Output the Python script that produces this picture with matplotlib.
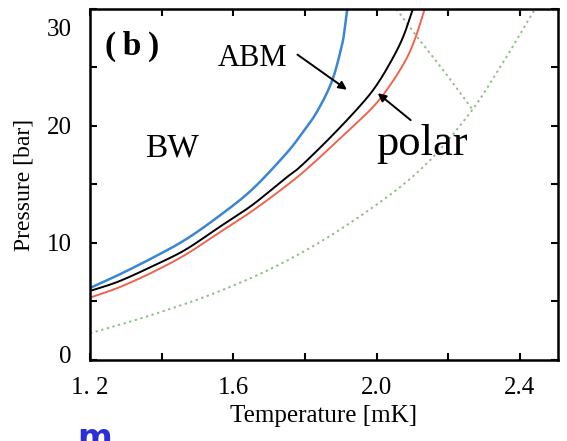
import numpy as np
import matplotlib.pyplot as plt
from matplotlib.ticker import MultipleLocator
from matplotlib.transforms import ScaledTranslation

plt.rcParams['font.family'] = ['Liberation Serif', 'DejaVu Serif']

# transition lines, temperature [mK] vs pressure [bar]
bw_T = [1.200, 1.279, 1.372, 1.465, 1.558, 1.651, 1.744, 1.790, 1.835, 1.876, 1.903, 1.911, 1.918]
bw_P = [6.15, 7.26, 8.69, 10.26, 12.25, 14.53, 17.52, 19.3, 21.3, 23.9, 26.9, 28.35, 30.0]

abm_T = [1.200, 1.279, 1.372, 1.465, 1.558, 1.651, 1.744, 1.786, 1.870, 1.953, 2.000, 2.045, 2.075, 2.101]
abm_P = [5.9, 6.7, 7.98, 9.40, 11.3, 13.2, 15.5, 16.5, 19.0, 21.7, 23.5, 25.8, 27.7, 30.0]

polar_T = [1.200, 1.279, 1.372, 1.465, 1.558, 1.651, 1.744, 1.808, 1.900, 1.989, 2.040, 2.084, 2.110, 2.134]
polar_P = [5.33, 6.18, 7.46, 8.97, 10.83, 12.7, 14.8, 16.4, 19.0, 21.6, 23.6, 25.8, 27.7, 30.0]

tc_T = [1.200, 1.372, 1.558, 1.744, 1.930, 2.116, 2.255, 2.348, 2.432, 2.443]
tc_P = [2.28, 3.85, 5.84, 8.4, 11.8, 16.1, 20.9, 25.2, 29.5, 30.0]

ab_T = [2.055, 2.116, 2.190, 2.265]
ab_P = [30.0, 27.5, 24.6, 21.5]


def smooth(x, y, n=12):
    # Catmull-Rom curve through the points, worked out in axis-scaled units
    x = np.asarray(x, float); y = np.asarray(y, float)
    sx, sy = 1 / 1.306, 1 / 30.0
    p = np.c_[x * sx, y * sy]
    p = np.vstack([2 * p[0] - p[1], p, 2 * p[-1] - p[-2]])
    out = []
    t = np.linspace(0, 1, n, endpoint=False)[:, None]
    for i in range(1, len(p) - 2):
        p0, p1, p2, p3 = p[i - 1], p[i], p[i + 1], p[i + 2]
        seg = 0.5 * (2 * p1 + (-p0 + p2) * t + (2 * p0 - 5 * p1 + 4 * p2 - p3) * t ** 2
                     + (-p0 + 3 * p1 - 3 * p2 + p3) * t ** 3)
        out.append(seg)
    out.append(p[-2][None, :])
    out = np.vstack(out)
    return out[:, 0] / sx, out[:, 1] / sy


fig = plt.figure(figsize=(5.67, 4.41), dpi=100)
ax = fig.add_axes([0.1587, 0.1837, 0.8254, 0.7959])

green = '#8cc084'
ax.plot(*smooth(tc_T, tc_P), color=green, lw=1.4, ls=(0, (1.2, 1.8)))
ax.plot(*smooth(ab_T, ab_P), color=green, lw=1.4, ls=(0, (1.2, 1.8)))
ax.plot(*smooth(polar_T, polar_P), color='#f0634f', lw=1.4)
ax.plot(*smooth(abm_T, abm_P), color='black', lw=1.4)
ax.plot(*smooth(bw_T, bw_P), color='#3a86d4', lw=1.8)

ax.set_xlim(1.2, 2.506)
ax.set_ylim(0, 30)
ax.set_xticks([1.2, 1.6, 2.0, 2.4])
ax.set_xticklabels(['1. 2', '1.6', '2.0', '2.4'])
ax.xaxis.set_minor_locator(MultipleLocator(0.2))
ax.set_yticks([0, 10, 20, 30])
ax.yaxis.set_minor_locator(MultipleLocator(5))
ax.tick_params(which='both', direction='in', top=True, right=True,
               length=5, width=1.5, labelsize=18)
ax.tick_params(axis='x', pad=12.5)
ax.tick_params(axis='y', pad=13)
for s in ax.spines.values():
    s.set_linewidth(1.8)

# nudge the end pressure labels so they sit clear of the corners
ylabs = ax.get_yticklabels()
ylabs[-1].set_transform(ylabs[-1].get_transform() + ScaledTranslation(0, -0.19, fig.dpi_scale_trans))
ylabs[0].set_transform(ylabs[0].get_transform() + ScaledTranslation(0, 0.05, fig.dpi_scale_trans))

ax.set_xlabel('Temperature [mK]', fontsize=18, labelpad=4)
ax.set_ylabel('Pressure [bar]', fontsize=17, labelpad=9)

ax.text(1.242, 26.8, '(\u2009b\u2009)', fontsize=24, fontweight='bold', va='center')
ax.text(1.557, 25.8, 'ABM', fontsize=22, va='center')
ax.text(1.355, 18.1, 'BW', fontsize=24, va='center')
ax.text(2.0, 18.5, 'polar', fontsize=32, va='center')

ax.annotate('', xy=(1.917, 23.1), xytext=(1.779, 26.1),
            arrowprops=dict(arrowstyle='-|>', color='black', lw=1.4,
                            mutation_scale=12, shrinkA=0, shrinkB=0))
ax.annotate('', xy=(2.003, 22.8), xytext=(2.095, 20.5),
            arrowprops=dict(arrowstyle='-|>', color='black', lw=1.4,
                            mutation_scale=12, shrinkA=0, shrinkB=0))

fig.text(0.136, -0.016, 'm', color='#2a2fd6', fontsize=24, fontweight='bold',
         family='DejaVu Sans', va='baseline')

fig.savefig('out.png', dpi=100)
